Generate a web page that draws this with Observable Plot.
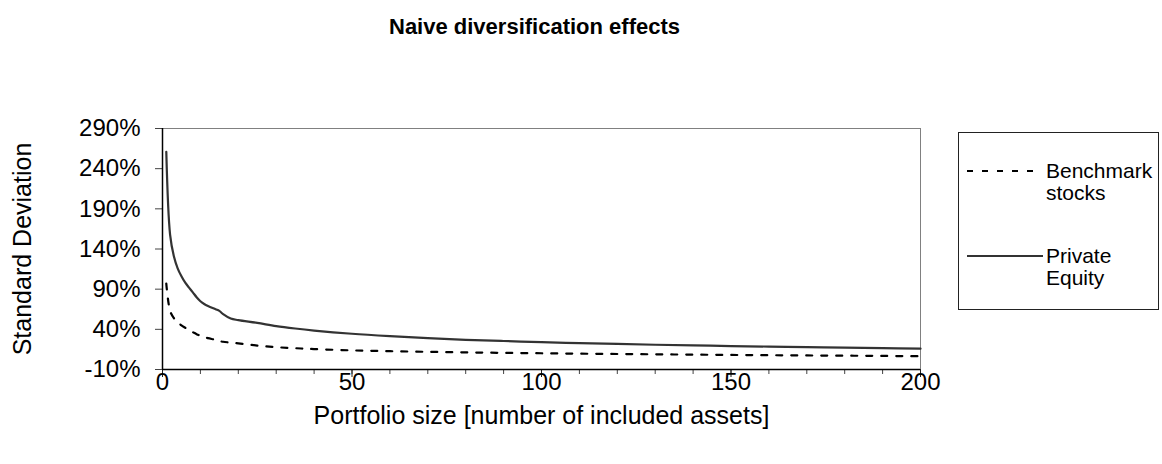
<!DOCTYPE html>
<html>
<head>
<meta charset="utf-8">
<script src="https://cdn.jsdelivr.net/npm/d3@7"></script>
<script src="https://cdn.jsdelivr.net/npm/@observablehq/plot@0.6"></script>
<style>
  html, body { margin: 0; padding: 0; background: #fff; }
  #wrap { position: relative; width: 1162px; height: 464px; font-family: "Liberation Sans", Arial, sans-serif; }
  #legend { position: absolute; left: 958px; top: 132px; width: 201px; height: 178px; border: 1px solid #222; box-sizing: border-box; background: #fff; }
  #legend .item { position: absolute; font-size: 21px; line-height: 22px; color: #000; white-space: nowrap; }
  #legend svg { position: absolute; left: 0; top: 0; }
</style>
</head>
<body>
<div id="wrap"></div>
<script>
const title = "Naive diversification effects";
const xTitle = "Portfolio size [number of included assets]";
const yTitle = "Standard Deviation";
const seriesNames = ["Benchmark stocks", "Private Equity"];

const sizes = [1,2,3,4,5,6,7,8,9,10,11,12,14,15,16,18,20,25,30,35,40,50,60,70,80,90,100,110,120,130,140,150,160,170,180,190,200];
const privateEquity = [261,158,131,116,106,98,92,86,80,75,71.5,69,65,63,59,53.5,51.5,48,44,41,38.5,34.5,31.5,29,27,25.5,24,22.8,21.8,20.8,20,19.2,18.5,17.8,17.2,16.6,16];
const benchmark = [97,63,54,49,45,42,39,36.5,34,32,30.5,29,27,25.5,24.5,23.5,22.5,19.8,17.8,16.5,15.4,13.8,12.8,12,11.3,10.7,10.2,9.7,9.3,8.9,8.5,8.1,7.8,7.5,7.2,6.9,6.5];

const yTicks = [-10,40,90,140,190,240,290];
const xMinorTicks = d3.range(0, 201, 10);
const xMajorTicks = [0,50,100,150,200];

const rows = [];
sizes.forEach((n, i) => {
  rows.push({n, v: benchmark[i], s: seriesNames[0]});
  rows.push({n, v: privateEquity[i], s: seriesNames[1]});
});

const font = "Liberation Sans, Arial, sans-serif";

const chart = Plot.plot({
  width: 1162,
  height: 464,
  marginLeft: 162,
  marginRight: 242,
  marginTop: 128,
  marginBottom: 95,
  style: {fontFamily: font, fontSize: "24px", color: "#000", background: "#fff"},
  x: {domain: [0, 200]},
  y: {domain: [-10, 290]},
  marks: [
    Plot.ruleY([290], {stroke: "#808080", strokeWidth: 1}),
    Plot.ruleX([200], {stroke: "#808080", strokeWidth: 1}),
    Plot.axisY({ticks: yTicks, tickSize: 7, tickPadding: 15, tickFormat: d => d + "%", label: null, fontSize: 24, stroke: "#444"}),
    Plot.axisX({ticks: xMinorTicks, tickSize: 5, tickFormat: () => "", label: null, stroke: "#444"}),
    Plot.axisX({ticks: xMajorTicks, tickSize: 8, tickFormat: () => "", label: null, stroke: "#222"}),
    Plot.axisX({ticks: xMajorTicks, tickSize: 0, tickPadding: 3, label: null, fontSize: 24}),
    Plot.line(rows.filter(d => d.s === seriesNames[1]), {x: "n", y: "v", stroke: "#333", strokeWidth: 2.2, curve: "catmull-rom"}),
    Plot.line(rows.filter(d => d.s === seriesNames[0]), {x: "n", y: "v", stroke: "#000", strokeWidth: 2.2, strokeDasharray: "6,9", curve: "catmull-rom"}),
    Plot.ruleY([-10], {stroke: "#000", strokeWidth: 1.5}),
    Plot.ruleX([0], {stroke: "#000", strokeWidth: 1.5}),
    Plot.text([yTitle], {frameAnchor: "left", textAnchor: "middle", dx: -140, rotate: -90, fontSize: 25, fill: "#000"}),
    Plot.text([xTitle], {frameAnchor: "bottom", dy: 54, fontSize: 25, fill: "#000"}),
    Plot.text([title], {frameAnchor: "top", dy: -110, dx: -7, fontSize: 22, fontWeight: "bold", fill: "#000"})
  ]
});

const wrap = document.getElementById("wrap");
wrap.appendChild(chart);

const legend = document.createElement("div");
legend.id = "legend";
legend.innerHTML = `
  <svg width="90" height="176">
    <line x1="8" x2="80" y1="38" y2="38" stroke="#000" stroke-width="2.2" stroke-dasharray="6,9"></line>
    <line x1="8" x2="84" y1="123" y2="123" stroke="#333" stroke-width="2.2"></line>
  </svg>
  <div class="item" style="left:87px; top:27px">Benchmark<br>stocks</div>
  <div class="item" style="left:87px; top:112px">Private<br>Equity</div>`;
wrap.appendChild(legend);
</script>
</body>
</html>
